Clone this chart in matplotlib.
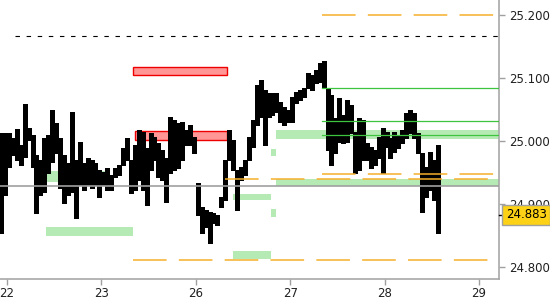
import matplotlib
matplotlib.use("Agg")
import matplotlib.pyplot as plt
import matplotlib.transforms as mtransforms
from matplotlib.patches import Rectangle

# trading days on the x axis (weekend skipped)
days = ["22", "23", "26", "27", "28", "29"]

# hourly bars, first one 1.5 h before the "22" tick
highs = [25.013, 25.013, 25.013, 25.005, 25.019, 24.994, 25.059, 25.021, 25.010, 24.978,
         24.970, 25.005, 25.010, 25.049, 25.029, 25.005, 24.978, 24.965, 25.046, 24.970,
         24.999, 24.965, 24.973, 24.970, 24.965, 24.954, 24.951, 24.957, 24.946, 24.957,
         24.962, 24.989, 25.005, 24.970, 24.994, 25.018, 25.015, 24.989, 25.013, 25.007,
         24.997, 24.986, 24.973, 25.038, 25.034, 25.029, 25.030, 25.018, 25.026, 25.007,
         24.934, 24.896, 24.891, 24.888, 24.886, 24.883, 24.911, 24.970, 25.018, 25.002,
         24.954, 24.959, 24.970, 25.007, 25.034, 25.089, 25.097, 25.081, 25.076, 25.076,
         25.076, 25.062, 25.054, 25.049, 25.070, 25.078, 25.081, 25.084, 25.108, 25.105,
         25.113, 25.124, 25.127, 25.084, 25.073, 25.037, 25.068, 25.041, 25.065, 25.057,
         25.015, 25.037, 25.034, 24.997, 24.991, 24.986, 25.007, 25.021, 25.015, 25.005,
         25.015, 25.010, 25.018, 25.045, 25.049, 25.045, 25.013, 24.981, 24.959, 24.983,
         24.970, 24.994]
lows = [24.854, 24.915, 24.959, 24.978, 24.970, 24.962, 24.975, 25.002, 24.959, 24.886,
        24.915, 24.919, 24.950, 24.967, 24.981, 24.926, 24.902, 24.915, 24.919, 24.878,
        24.931, 24.923, 24.931, 24.926, 24.931, 24.911, 24.931, 24.923, 24.923, 24.943,
        24.946, 24.962, 24.970, 24.918, 24.923, 24.938, 24.923, 24.899, 24.954, 24.970,
        24.943, 24.938, 24.904, 24.950, 24.954, 24.957, 24.970, 24.994, 24.994, 24.981,
        24.883, 24.854, 24.864, 24.839, 24.870, 24.867, 24.896, 24.907, 24.970, 24.954,
        24.891, 24.938, 24.946, 24.970, 24.991, 25.026, 25.038, 24.994, 25.038, 25.041,
        25.046, 25.030, 25.026, 25.030, 25.030, 25.060, 25.065, 25.070, 25.084, 25.081,
        25.092, 25.094, 25.084, 24.986, 24.962, 24.981, 24.999, 24.997, 24.999, 25.013,
        24.950, 24.954, 24.970, 24.970, 24.957, 24.962, 24.973, 24.950, 24.991, 24.973,
        24.983, 24.989, 24.997, 25.005, 25.013, 25.005, 24.981, 24.888, 24.911, 24.923,
        24.907, 24.854]
last_price = 24.883
first_bar_hour = -1.5

yticks = [24.8, 24.9, 25.0, 25.1, 25.2]


def at(day, hour):
    # position on the trading-day axis
    return day + hour / 24.0


END = 7.0

# supply / demand zones: (start, end, low, high)
red_zones = [(at(1, 8), at(2, 8), 25.105, 25.118),
             (at(1, 8.5), at(2, 8), 25.002, 25.016)]
green_zones = [(at(0, 10), at(1, 8), 24.850, 24.864),
               (at(0, 10), at(1, 2), 24.935, 24.953),
               (at(2, 9.5), at(2, 19), 24.907, 24.916),
               (at(2, 9.5), at(2, 19), 24.813, 24.826),
               (at(2, 19), at(2, 20.5), 24.976, 24.987),
               (at(2, 19), at(2, 20.5), 24.880, 24.892),
               (at(2, 20.5), END, 25.004, 25.018),
               (at(2, 20.5), END, 24.929, 24.940)]

# level lines: (price, start)
black_levels = [(25.167, at(0, 2))]
orange_levels = [(25.200, at(3, 8)), (24.948, at(3, 8)),
                 (24.940, at(2, 7.5)), (24.812, at(1, 8))]
green_levels = [(25.084, at(3, 8)), (25.032, at(3, 8)), (25.009, at(3, 8))]
gray_levels = [24.929]

fig = plt.figure(figsize=(5.5, 3.0), dpi=100)
ax = fig.add_axes([0.0, 0.07, 499 / 550, 0.93])

for x0, x1, lo, hi in green_zones:
    ax.add_patch(Rectangle((x0, lo), x1 - x0, hi - lo, facecolor="#b5eab5",
                           edgecolor="none", zorder=1))
for x0, x1, lo, hi in red_zones:
    ax.add_patch(Rectangle((x0, lo), x1 - x0, hi - lo, facecolor="#ff9797",
                           edgecolor="#ee0000", linewidth=1.0, zorder=1.5))

times = [at(0, first_bar_hour + i) for i in range(len(highs))]
ax.vlines(times, lows, highs, color="black", linewidth=2.2, zorder=3,
          capstyle="butt", antialiased=False)
ax.hlines(last_price, times[-1], times[-1] + 0.025, color="black", linewidth=1.0, zorder=3)

for y in gray_levels:
    ax.axhline(y, color="#a0a0a0", linewidth=1.2, zorder=4)
for y, x0 in black_levels:
    ax.plot([x0, END], [y, y], color="black", linewidth=0.8, dashes=(4, 6), zorder=4)
for y, x0 in orange_levels:
    ax.plot([x0, END], [y, y], color="#f5b02a", linewidth=1.1, dashes=(22, 8), zorder=4)
for y, x0 in green_levels:
    ax.plot([x0, END], [y, y], color="#3ec43e", linewidth=0.9, zorder=4)

ax.set_xlim(-0.074, 5.212)
ax.set_ylim(24.7814, 25.2238)

ax.set_xticks(range(len(days)))
ax.set_xticklabels(days)
ax.set_yticks(yticks)
ax.set_yticklabels(["%.3f" % v for v in yticks])
ax.yaxis.tick_right()
ax.tick_params(axis="both", colors="#a0a0a0", labelcolor="#202020",
               labelsize=8.5, length=4, width=1)
ax.tick_params(axis="y", pad=3)
ax.tick_params(axis="x", pad=2)

for side in ["top", "left"]:
    ax.spines[side].set_visible(False)
for side in ["right", "bottom"]:
    ax.spines[side].set_color("#a8a8a8")
    ax.spines[side].set_linewidth(1.2)

# last price marker on the price axis
trans = mtransforms.blended_transform_factory(ax.transAxes, ax.transData)
ax.plot([1.0, 1.01], [last_price, last_price], color="black", linewidth=1.0,
        transform=trans, clip_on=False, zorder=6)
ax.text(1.014, last_price, "%.3f" % last_price, transform=trans, ha="left",
        va="center", fontsize=8.5, color="black", zorder=7,
        bbox=dict(boxstyle="square,pad=0.3", facecolor="#fcd116",
                  edgecolor="#a0a0a0", linewidth=1.0))

fig.savefig("out.png", dpi=100)
